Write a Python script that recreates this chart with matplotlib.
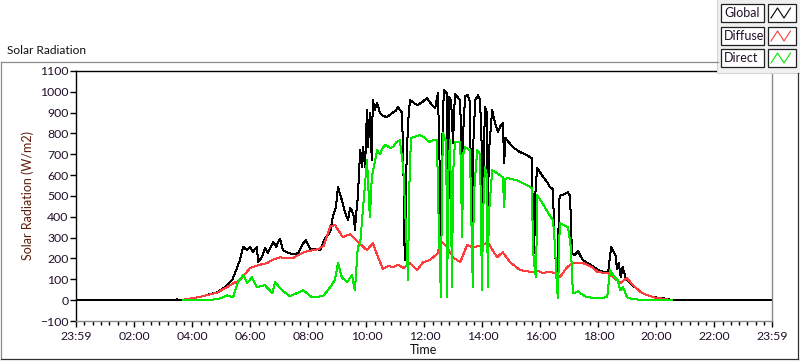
import matplotlib

matplotlib.use("Agg")
import matplotlib.pyplot as plt
from matplotlib.lines import Line2D
from matplotlib.patches import Rectangle
import numpy as np

plt.rcParams["font.family"] = ["Lato", "DejaVu Sans"]

W, H = 800, 361

# time in minutes after midnight, values in W/m2
global_min = [-1, 205, 208, 211, 220, 256, 291, 308, 322, 333, 338, 345, 353, 359, 365,
              373, 376, 384, 390, 396, 407, 413, 421, 427, 438, 448, 459, 469, 475, 483,
              498, 504, 514, 525, 531, 537, 541, 545, 551, 556, 562, 566, 570, 574, 576,
              580, 582, 587, 591, 593, 597, 601, 603, 607, 611, 613, 617, 622, 628, 632,
              642, 653, 661, 665, 673, 676, 678, 680, 682, 686, 690, 705, 715, 725, 736,
              742, 748, 752, 754, 756, 760, 767, 769, 771, 775, 779, 783, 790, 794, 796,
              798, 800, 804, 810, 814, 816, 818, 820, 825, 831, 835, 839, 841, 843, 845,
              849, 851, 853, 860, 866, 872, 878, 882, 885, 887, 891, 903, 918, 924, 942,
              945, 947, 949, 953, 963, 974, 980, 984, 986, 988, 992, 994, 996, 998, 1002,
              1004, 1017, 1021, 1023, 1025, 1031, 1038, 1042, 1048, 1067, 1083, 1100, 1106,
              1110, 1116, 1118, 1122, 1126, 1130, 1136, 1141, 1151, 1156, 1170, 1193, 1213,
              1232, 1439]
global_wm2 = [0, 0, 6, 0, 2, 16, 38, 64, 96, 160, 192, 256, 240, 256, 232,
              256, 184, 208, 250, 226, 280, 256, 296, 240, 227, 221, 226, 272, 288, 248,
              245, 240, 296, 328, 408, 448, 544, 512, 464, 418, 384, 442, 430, 400, 336,
              446, 494, 720, 640, 734, 638, 912, 734, 898, 672, 960, 912, 946, 898, 888,
              878, 898, 910, 926, 902, 720, 300, 192, 600, 850, 960, 936, 950, 970, 936,
              922, 994, 576, 216, 700, 1008, 990, 226, 974, 960, 754, 990, 970, 960, 700,
              302, 800, 980, 984, 950, 600, 226, 700, 960, 984, 960, 700, 302, 700, 926,
              900, 302, 700, 912, 850, 806, 840, 850, 658, 780, 768, 734, 710, 706, 682,
              336, 226, 500, 634, 600, 566, 542, 538, 528, 336, 158, 130, 110, 480, 504,
              504, 518, 500, 384, 226, 216, 235, 215, 192, 165, 140, 132, 254,
              240, 212, 150, 178, 110, 158, 110, 91, 70, 62, 34, 14, 10,
              0, 0]

diffuse_min = [220, 256, 291, 311, 324, 338, 359, 376, 394, 408, 421, 435, 448, 463, 477,
               490, 500, 512, 525, 535, 551, 566, 585, 601, 613, 624, 634, 645, 655, 666,
               676, 690, 705, 717, 731, 748, 752, 767, 779, 794, 808, 820, 839, 851, 870,
               882, 897, 918, 930, 942, 955, 965, 978, 990, 1000, 1015, 1027, 1048, 1067,
               1079, 1100, 1118, 1125, 1139, 1151, 1170, 1193, 1232]
diffuse_wm2 = [2, 16, 36, 62, 80, 96, 154, 168, 178, 196, 206, 200, 202, 222, 235,
               240, 245, 262, 355, 360, 302, 317, 274, 240, 274, 206, 150, 164, 158, 170,
               154, 178, 144, 182, 192, 226, 288, 254, 206, 182, 264, 254, 264, 278, 206,
               230, 182, 144, 140, 134, 142, 130, 136, 130, 110, 158, 178, 178, 158,
               134, 130, 96, 82, 106, 72, 34, 14, 0]

direct_min = [220, 276, 300, 311, 324, 334, 345, 353, 363, 373, 390, 405, 411, 425, 442,
              469, 487, 510, 525, 535, 541, 549, 560, 570, 576, 582, 587, 593, 601, 607,
              611, 622, 628, 634, 640, 649, 655, 662, 669, 676, 680, 686, 688, 692, 700,
              711, 720, 731, 738, 746, 748, 754,
              756, 758, 765, 767, 769, 773, 777, 779, 783, 794, 798, 800, 804, 814, 820,
              822, 829, 835, 839, 841, 845, 849, 851, 853, 860, 870, 882, 885, 887, 891,
              911, 932, 942, 945, 949, 951, 953, 963, 976, 986, 990, 994, 996, 998, 1000,
              1017, 1023, 1025, 1027, 1036, 1038, 1042, 1056, 1083, 1098, 1104, 1114, 1120,
              1125, 1131, 1139, 1151, 1180, 1232]
direct_wm2 = [0, 0, 10, 24, 14, 86, 120, 82, 110, 62, 72, 34, 86, 48, 19,
              48, 14, 19, 62, 100, 178, 110, 86, 120, 48, 254, 274, 446, 672, 398,
              590, 720, 700, 734, 745, 730, 735, 760, 768, 638, 432, 96, 500, 778, 785,
              792, 780, 758, 770, 768, 494, 14,
              500, 802, 760, 14, 600, 770, 62, 600, 758, 758, 302, 700, 734, 720, 62,
              500, 720, 700, 48, 400, 638, 600, 62, 400, 624, 610, 590, 446, 580, 586,
              576, 552, 538, 226, 130, 110, 504, 470, 418, 384, 260, 60, 10, 200, 370,
              350, 250, 144, 34, 38, 43, 34, 14, 10, 14, 144, 110, 96,
              48, 62, 14, 5, 0, 0]

x_ticks_min = [-1, 120, 240, 360, 480, 600, 720, 840, 960, 1080, 1200, 1320, 1439]
x_tick_labels = ["23:59", "02:00", "04:00", "06:00", "08:00", "10:00", "12:00",
                 "14:00", "16:00", "18:00", "20:00", "22:00", "23:59"]
y_ticks = list(range(-100, 1101, 100))

series_names = ["Global", "Diffuse", "Direct"]
series_colors = ["#000000", "#ff3b3b", "#00e800"]

TICK_COL = "#20102a"
YLAB_COL = "#5c1e0a"


def fx(x):
    return x / W


def fy(y):
    return 1 - y / H


def fig_line(fig, xs, ys, **kw):
    fig.add_artist(Line2D([fx(v) for v in xs], [fy(v) for v in ys],
                          transform=fig.transFigure, **kw))


def fig_rect(fig, x0, y0, x1, y1, **kw):
    fig.add_artist(Rectangle((fx(x0), fy(y1)), (x1 - x0) / W, (y1 - y0) / H,
                             transform=fig.transFigure, **kw))


fig = plt.figure(figsize=(W / 100, H / 100), dpi=100)
fig.patch.set_facecolor("white")

# outer panel frame
fig_line(fig, [1, 718], [62, 62], color="#8a8a8a", lw=0.9)
fig_line(fig, [1, 1], [62, 359], color="#8a8a8a", lw=0.9)
fig_line(fig, [1, 798], [359, 359], color="#303030", lw=0.9)
fig_line(fig, [798, 798], [73, 359], color="#303030", lw=0.9)
fig.text(fx(7), fy(50), "Solar Radiation", fontsize=8.6, color="#101010",
         ha="left", va="center")

ax = fig.add_axes([fx(76), fy(321), (772 - 76) / W, (321 - 71) / H])
line_kw = dict(lw=0.72, antialiased=False)
ax.plot(global_min, global_wm2, color=series_colors[0], zorder=2, **line_kw)
ax.plot(diffuse_min, diffuse_wm2, color=series_colors[1], zorder=3, **line_kw)
ax.plot(direct_min, direct_wm2, color=series_colors[2], zorder=4, **line_kw)

ax.set_xlim(-1, 1439)
ax.set_ylim(-100, 1100)
ax.set_yticks(y_ticks)
ax.set_xticks(x_ticks_min)
ax.set_xticklabels(x_tick_labels)
minors = []
for a, b in zip(x_ticks_min[:-1], x_ticks_min[1:]):
    minors.extend(np.linspace(a, b, 8)[1:-1])
ax.set_xticks(minors, minor=True)

ax.tick_params(axis="both", which="major", direction="out", length=4, width=1,
               color="#000000", labelsize=8.8, labelcolor=TICK_COL)
ax.tick_params(axis="y", pad=1.5)
ax.tick_params(axis="x", pad=3)
ax.tick_params(axis="x", which="minor", direction="out", length=3, width=1, color="#000000")

for side in ("left", "top"):
    ax.spines[side].set_color("#000000")
    ax.spines[side].set_linewidth(1)
for side in ("right", "bottom"):
    ax.spines[side].set_color("#8a8a8a")
    ax.spines[side].set_linewidth(1)

ax.set_ylabel("Solar Radiation (W/m2)", fontsize=9, color=YLAB_COL, labelpad=4)
ax.set_xlabel("Time", fontsize=9, color="#101010", labelpad=2)

# legend block, top right
fig_rect(fig, 717, -1, 801, 73, facecolor="#f0f0f0", edgecolor="#d4d4d4", lw=0.8)
row_tops = [4, 27, 49]
for name, col, top in zip(series_names, series_colors, row_tops):
    bot = top + 18
    fig_rect(fig, 721, top, 764, bot, facecolor="white", edgecolor="#202020", lw=0.9)
    fig.text(fx(724), fy((top + bot) / 2), name, fontsize=9, color=TICK_COL,
             ha="left", va="center")
    fig_rect(fig, 768, top, 796, bot, facecolor="white", edgecolor="#202020", lw=0.9)
    zx = [771, 777.5, 784, 790.5]
    zy = [bot - 4, top + 4, bot - 4, top + 4]
    fig_line(fig, zx, zy, color=col, lw=0.8)

fig.savefig("out.png", dpi=100)
